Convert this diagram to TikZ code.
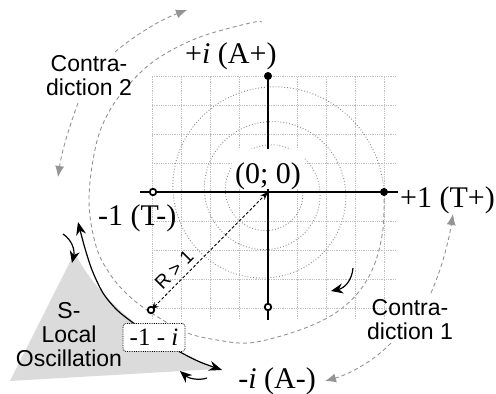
\documentclass[tikz,border=0pt]{standalone}
\usepackage{fontspec}
\setmainfont{Liberation Serif}
\setsansfont{Liberation Sans}
\usetikzlibrary{arrows.meta}
\begin{document}
\begin{tikzpicture}[x=1pt,y=-1pt,
  gridl/.style={draw=black!25, densely dotted, line width=0.8pt},
  spiraldot/.style={draw=black!45, dotted, line width=0.9pt},
  spiraldash/.style={draw=black!42, line width=0.9pt, dash pattern=on 4pt off 3pt},
  axisl/.style={draw=black, line width=1.3pt},
  fulldot/.style={circle, fill=black, inner sep=0pt, minimum size=8pt},
  opendot/.style={circle, draw=black, fill=white, line width=1.8pt, inner sep=0pt, minimum size=6.5pt},
  serlab/.style={font=\fontsize{30}{31}\selectfont, inner sep=0pt},
  sanlab/.style={font=\sffamily\fontsize{23}{24}\selectfont, align=center, inner sep=0pt},
  contra/.style={draw=black!42, line width=0.9pt, dash pattern=on 4pt off 3pt, -{Latex[length=11pt,width=9pt]}},
  blk/.style={draw=black, line width=1.2pt, -{Stealth[length=12pt,width=10pt]}},
  bigarc/.style={draw=black, line width=1.2pt, {Stealth[length=13pt,width=10pt]}-{Stealth[length=13pt,width=10pt]}},
  rarrow/.style={draw=black, line width=0.9pt, dash pattern=on 3pt off 2pt, {Stealth[length=8pt,width=6pt]}-{Stealth[length=8pt,width=6pt]}},
  boxlab/.style={draw=black, densely dotted, rounded corners=3pt, fill=white, line width=0.8pt, minimum width=62pt, minimum height=28pt, inner sep=0pt, font=\fontsize{25}{25}\selectfont}
]
\useasboundingbox (0,0) rectangle (496,394);

% key positions
\coordinate (O) at (268,192);
\coordinate (cP1) at (384,192);
\coordinate (cPi) at (268,76);
\coordinate (cM1) at (153,192);
\coordinate (cMi) at (268,307);
\coordinate (cZ) at (151,310);
\coordinate (xl) at (140,192);
\coordinate (xr) at (398,192);
\coordinate (yb) at (268,320);

% S-local oscillation shading
\fill[black!14] (10,381) -- (75,252) .. controls (92,292) and (150,345) .. (217,369) -- cycle;

% grid
\foreach \i in {-4,...,4} {
  \draw[gridl] ({268+29*\i},77) -- ({268+29*\i},320);
  \draw[gridl] (152,{192+29*\i}) -- (396,{192+29*\i});
}

% inward dotted spiral
\draw[spiraldot] plot[domain=0:1080, samples=300, smooth]
  ({268+116*exp(-0.0011111*\x)*cos(\x)}, {192-116*exp(-0.0011111*\x)*sin(\x)});

% outward dashed spiral
\draw[spiraldash] plot[smooth, tension=0.6] coordinates {(384,192) (383,229) (375,263) (361,289) (341,309) (315,324) (281,336) (248,343) (217,340) (185,332) (150,312) (128,295) (110,274) (96,246) (89,200) (96,145) (110,110) (133,80) (160,57) (200,37) (250,23) (262,22)};

% axes
\draw[axisl] (xl) -- (xr);
\draw[axisl] (cPi) -- (yb);

% label at origin
\node[serlab, fill=white, anchor=base, inner xsep=3.5pt, text height=34pt, text depth=6pt] (lO) at (268,183) {(0; 0)};

% points
\node[fulldot] (P1) at (cP1) {};
\node[fulldot] (Pi) at (cPi) {};
\node[opendot] (M1) at (cM1) {};
\node[opendot] (Mi) at (cMi) {};

% radius arrow
\draw[rarrow] (cZ) -- (O) node[pos=0.27, above=4pt, sloped, inner sep=1pt, font=\sffamily\fontsize{19}{19}\selectfont] {R > 1};
\node[opendot] (Z) at (cZ) {};

% axis labels
\node[serlab, anchor=base west] (lPi) at (185,63) {+\textit{i} (A+)};
\node[serlab, anchor=base east] (lP1) at (495,207) {+1 (T+)};
\node[serlab, anchor=base west] (lM1) at (98,225) {-1 (T-)};
\node[serlab, anchor=base east] (lMi) at (316,388) {-\textit{i} (A-)};

% big local oscillation arc
\draw[bigarc] plot[smooth] coordinates {(78,222) (84,245) (92,270) (103,293) (117,310) (132,322) (150,335) (180,352) (200,362) (222,370)};
\node[boxlab] (box) at (154,337.5) {-1 - \textit{i}};

% small black rotation arrows
\coordinate (b1s) at (63,234); \coordinate (b1e) at (72,263);
\coordinate (b2s) at (207,378); \coordinate (b2e) at (180,371);
\coordinate (b3s) at (353,268); \coordinate (b3e) at (331,291);
\draw[blk] (b1s) .. controls (72,240) and (75,250) .. (b1e);
\draw[blk] (b2s) .. controls (198,381) and (188,378) .. (b2e);
\draw[blk] (b3s) .. controls (352,280) and (345,288) .. (b3e);

% text labels
\node[sanlab] (c2) at (89,75.5) {Contra-\\diction 2};
\node[sanlab] (c1) at (410,320) {Contra-\\diction 1};
\node[sanlab] (sl) at (69,335) {S-\\Local\\Oscillation};

% contradiction arrows
\coordinate (g1s) at (115,52); \coordinate (g1e) at (187,10);
\coordinate (g2s) at (78,103); \coordinate (g2e) at (58,177);
\coordinate (g3s) at (431,293); \coordinate (g3e) at (453,214);
\coordinate (g4s) at (391,343); \coordinate (g4e) at (325,381);
\draw[contra] (g1s) .. controls (135,35) and (160,20) .. (g1e);
\draw[contra] (g2s) .. controls (70,125) and (62,150) .. (g2e);
\draw[contra] (g3s) .. controls (441,270) and (448,245) .. (g3e);
\draw[contra] (g4s) .. controls (375,360) and (350,374) .. (g4e);
\end{tikzpicture}
\end{document}
